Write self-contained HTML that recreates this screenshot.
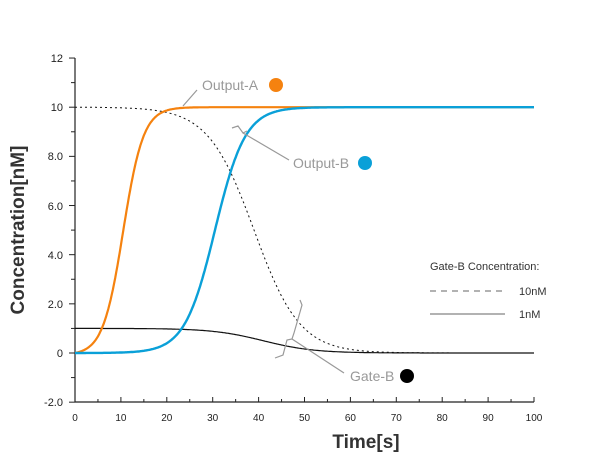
<!DOCTYPE html>
<html><head><meta charset="utf-8"><style>
html,body{margin:0;padding:0;background:#fff;}
svg{display:block;font-family:"Liberation Sans",sans-serif;}
</style></head><body>
<svg id="s" width="610" height="460" viewBox="0 0 610 460" xmlns="http://www.w3.org/2000/svg">
<g id="axes" stroke="#222" stroke-width="1.2" fill="none">
<line x1="75" y1="58" x2="75" y2="402"/>
<line x1="75" y1="402" x2="534" y2="402"/>
</g>
<g id="ticks" stroke="#222" stroke-width="1"></g>
<g font-size="11" fill="#222" text-anchor="end">
<text x="63" y="62">12</text>
<text x="63" y="111">10</text>
<text x="63" y="160">8.0</text>
<text x="63" y="210">6.0</text>
<text x="63" y="259">4.0</text>
<text x="63" y="308">2.0</text>
<text x="63" y="357">0</text>
<text x="63" y="406">-2.0</text>
</g>
<g font-size="10" fill="#222" text-anchor="middle" id="xl"></g>
<text x="24" y="230" font-size="19" font-weight="bold" fill="#333" text-anchor="middle" transform="rotate(-90 24 230)">Concentration[nM]</text>
<text x="366" y="448" font-size="19" font-weight="bold" fill="#333" text-anchor="middle">Time[s]</text>
<g fill="none" id="curves"></g>
<g stroke="#999" stroke-width="1.2" fill="none">
<line x1="197" y1="90" x2="183" y2="106"/>
<polyline points="232,128 238,126 243,133 247,131"/>
<line x1="243" y1="133" x2="289" y2="160"/>
<polyline points="300,300 302,305 294,333 292,339 287,340 283,355 275,358"/>
<line x1="292" y1="339" x2="344" y2="373"/>
</g>
<g font-size="14" fill="#999">
<text x="202" y="90">Output-A</text>
<text x="293" y="168">Output-B</text>
<text x="350" y="381">Gate-B</text>
</g>
<circle cx="276" cy="85" r="7" fill="#f5820f"/>
<circle cx="365" cy="163" r="7" fill="#0aa0d8"/>
<circle cx="407" cy="376" r="7" fill="#000"/>
<text x="430" y="270" font-size="11" fill="#333">Gate-B Concentration:</text>
<line x1="430" y1="291" x2="505" y2="291" stroke="#999" stroke-width="1.5" stroke-dasharray="6,5"/>
<line x1="430" y1="314" x2="505" y2="314" stroke="#999" stroke-width="1.5"/>
<text x="519" y="295" font-size="11" fill="#333">10nM</text>
<text x="519" y="318" font-size="11" fill="#333">1nM</text>
</svg>
<script>
var NS="http://www.w3.org/2000/svg";
function X(t){return 75+t*4.59;}
function Y(v){return 353-v*24.58;}
var tk=document.getElementById("ticks");
for(var v=-2;v<=12;v++){var l=document.createElementNS(NS,"line");l.setAttribute("x1",v%2==0?69:71);l.setAttribute("x2",75);l.setAttribute("y1",Y(v));l.setAttribute("y2",Y(v));tk.appendChild(l);}
var xl=document.getElementById("xl");
for(var t=0;t<=100;t+=5){var l=document.createElementNS(NS,"line");l.setAttribute("x1",X(t));l.setAttribute("x2",X(t));l.setAttribute("y1",t%10==0?397:399);l.setAttribute("y2",402);tk.appendChild(l);
if(t%10==0){var tx=document.createElementNS(NS,"text");tx.setAttribute("x",X(t));tx.setAttribute("y",421);tx.textContent=t;xl.appendChild(tx);}}
function curve(f,col,w,dash){var p=[];for(var t=0;t<=100;t+=0.25){p.push(X(t).toFixed(1)+","+Y(f(t)).toFixed(1));}
var e=document.createElementNS(NS,"polyline");e.setAttribute("points",p.join(" "));e.setAttribute("stroke",col);e.setAttribute("stroke-width",w);e.setAttribute("fill","none");if(dash)e.setAttribute("stroke-dasharray",dash);document.getElementById("curves").appendChild(e);}
function lg(t,m,k){return 1/(1+Math.exp(-(t-m)/k));}
curve(function(t){return (1-lg(t,41,5.5))/(1-lg(0,41,5.5));},"#111",1.2);
curve(function(t){return 10*(1-lg(t,39,5))/(1-lg(0,39,5));},"#111",1,"2,3");
curve(function(t){return Math.max(0,10*(lg(t,10.5,2.2)-lg(0,10.5,2.2))/(1-lg(0,10.5,2.2)));},"#f5820f",2.2);
curve(function(t){return 10*lg(t,30.5,3.3);},"#0aa0d8",2.4);
</script>
</body></html>
